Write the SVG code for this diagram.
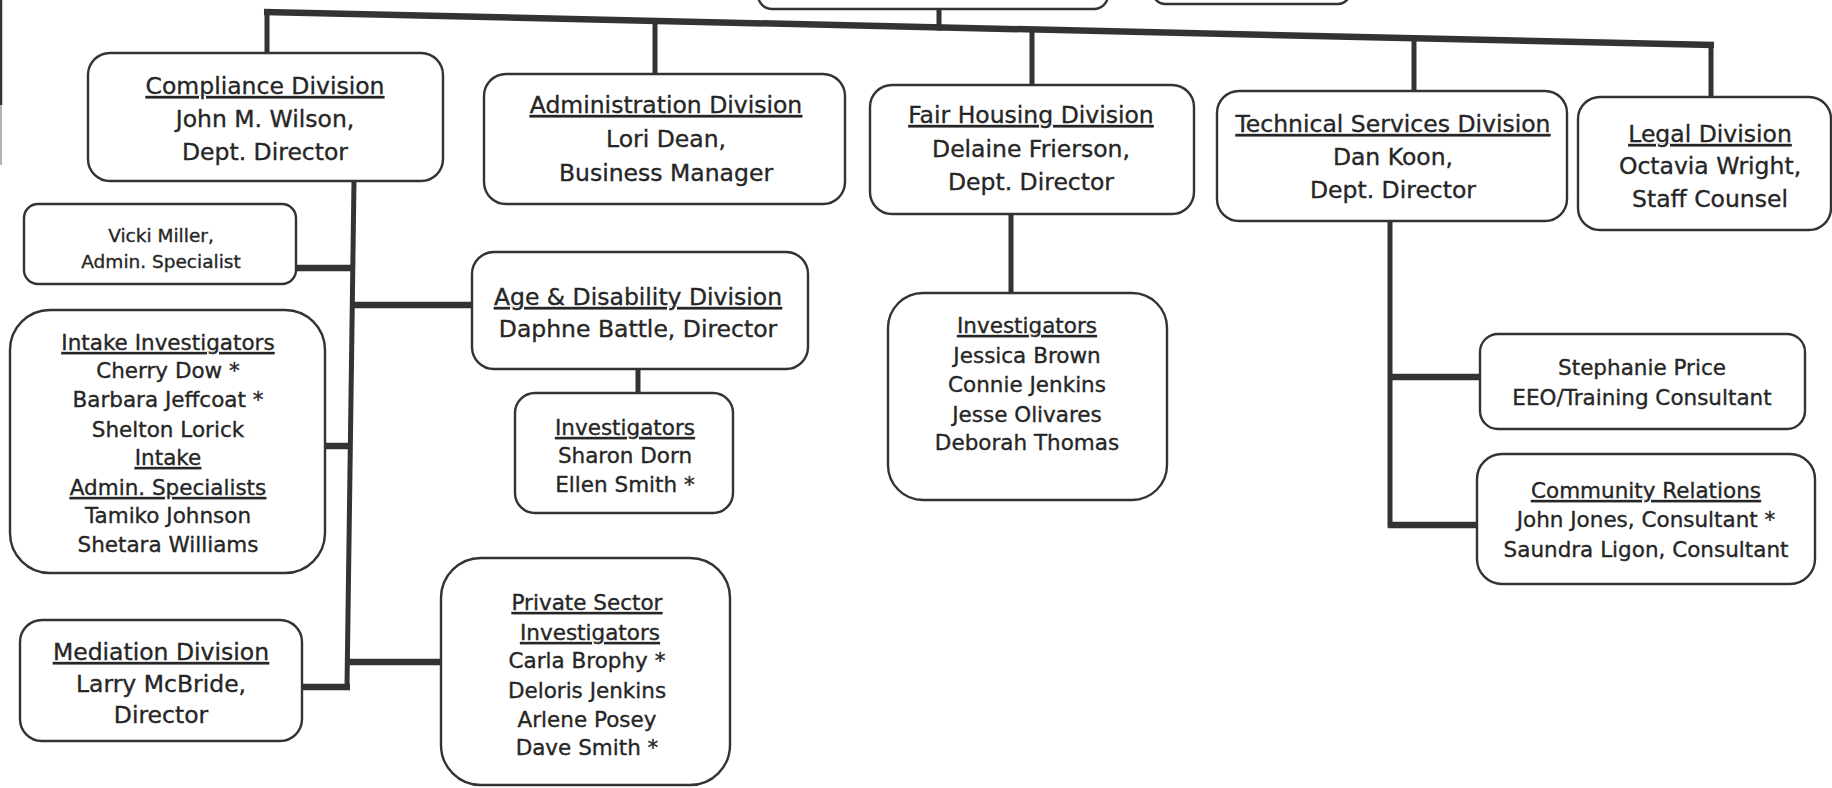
<svg xmlns="http://www.w3.org/2000/svg" width="1832" height="788" viewBox="0 0 1832 788">
<style>
.box{fill:#fff;stroke:#333;stroke-width:2.4}
.t{font-family:"DejaVu Sans",Verdana,sans-serif;fill:#262626;stroke:#262626;stroke-width:0.35;text-anchor:middle}
.u{text-decoration:underline}
.L{font-size:23.5px}
.M{font-size:21.5px}
.S{font-size:18.5px}
.c{stroke:#333;stroke-width:5;fill:none;stroke-linecap:square}
.b{stroke:#333;stroke-width:6.5;fill:none}
</style>
<rect width="1832" height="788" fill="#fff"/>
<g id="connectors">
<line x1="1" y1="0" x2="1" y2="105" stroke="#333" stroke-width="2.5"/>
<line x1="1" y1="105" x2="1" y2="165" stroke="#999" stroke-width="1.5"/>
<line class="b" x1="264" y1="12" x2="1714" y2="45"/>
<line class="c" x1="267" y1="12" x2="267" y2="53"/>
<line class="c" x1="655" y1="21" x2="655" y2="74"/>
<line class="c" x1="939" y1="9" x2="939" y2="28"/>
<line class="c" x1="1032" y1="30" x2="1032" y2="85"/>
<line class="c" x1="1414" y1="38" x2="1414" y2="91"/>
<line class="c" x1="1711" y1="45" x2="1711" y2="97"/>
<path class="c" d="M354 181 L347 687"/>
<line class="b" x1="296" y1="268" x2="353" y2="268"/>
<line class="b" x1="352" y1="305" x2="472" y2="305"/>
<line class="b" x1="325" y1="446" x2="350" y2="446"/>
<line class="b" x1="347" y1="662" x2="441" y2="662"/>
<line class="b" x1="302" y1="687" x2="350" y2="687"/>
<line class="c" x1="638" y1="369" x2="638" y2="393"/>
<line class="c" x1="1011" y1="214" x2="1011" y2="293"/>
<path class="c" d="M1390 222 L1390 525"/>
<line class="b" x1="1388" y1="377" x2="1480" y2="377"/>
<line class="b" x1="1388" y1="525" x2="1477" y2="525"/>
</g>
<g id="top-box-1"><rect class="box" x="758" y="-40" width="350" height="49" rx="14"/></g>
<g id="top-box-2"><rect class="box" x="1153" y="-40" width="197" height="44" rx="12"/></g>
<g id="compliance">
<rect class="box" x="88" y="53" width="355" height="128" rx="22"/>
<text class="t L u" x="265" y="94">Compliance Division</text>
<text class="t L" x="265" y="127">John M. Wilson,</text>
<text class="t L" x="265" y="160">Dept. Director</text>
</g>
<g id="administration">
<rect class="box" x="484" y="74" width="361" height="130" rx="22"/>
<text class="t L u" x="666" y="113">Administration Division</text>
<text class="t L" x="666" y="147">Lori Dean,</text>
<text class="t L" x="666" y="181">Business Manager</text>
</g>
<g id="fair-housing">
<rect class="box" x="870" y="85" width="324" height="129" rx="22"/>
<text class="t L u" x="1031" y="123">Fair Housing Division</text>
<text class="t L" x="1031" y="157">Delaine Frierson,</text>
<text class="t L" x="1031" y="190">Dept. Director</text>
</g>
<g id="technical-services">
<rect class="box" x="1217" y="91" width="350" height="130" rx="22"/>
<text class="t L u" x="1393" y="132">Technical Services Division</text>
<text class="t L" x="1393" y="165">Dan Koon,</text>
<text class="t L" x="1393" y="198">Dept. Director</text>
</g>
<g id="legal">
<rect class="box" x="1578" y="97" width="253" height="133" rx="22"/>
<text class="t L u" x="1710" y="142">Legal Division</text>
<text class="t L" x="1710" y="174">Octavia Wright,</text>
<text class="t L" x="1710" y="207">Staff Counsel</text>
</g>
<g id="vicki-miller">
<rect class="box" x="24" y="204" width="272" height="80" rx="14"/>
<text class="t S" x="161" y="242">Vicki Miller,</text>
<text class="t S" x="161" y="268">Admin. Specialist</text>
</g>
<g id="intake">
<rect class="box" x="10" y="310" width="315" height="263" rx="40"/>
<text class="t M u" x="168" y="350">Intake Investigators</text>
<text class="t M" x="168" y="378">Cherry Dow *</text>
<text class="t M" x="168" y="407">Barbara Jeffcoat *</text>
<text class="t M" x="168" y="437">Shelton Lorick</text>
<text class="t M u" x="168" y="465">Intake</text>
<text class="t M u" x="168" y="495">Admin. Specialists</text>
<text class="t M" x="168" y="523">Tamiko Johnson</text>
<text class="t M" x="168" y="552">Shetara Williams</text>
</g>
<g id="age-disability">
<rect class="box" x="472" y="252" width="336" height="117" rx="22"/>
<text class="t L u" x="638" y="305">Age &amp; Disability Division</text>
<text class="t L" x="638" y="337">Daphne Battle, Director</text>
</g>
<g id="age-investigators">
<rect class="box" x="515" y="393" width="218" height="120" rx="20"/>
<text class="t M u" x="625" y="435">Investigators</text>
<text class="t M" x="625" y="463">Sharon Dorn</text>
<text class="t M" x="625" y="492">Ellen Smith *</text>
</g>
<g id="mediation">
<rect class="box" x="20" y="620" width="282" height="121" rx="22"/>
<text class="t L u" x="161" y="660">Mediation Division</text>
<text class="t L" x="161" y="692">Larry McBride,</text>
<text class="t L" x="161" y="723">Director</text>
</g>
<g id="private-sector">
<rect class="box" x="441" y="558" width="289" height="227" rx="40"/>
<text class="t M u" x="587" y="610">Private Sector</text>
<text class="t M u" x="590" y="640">Investigators</text>
<text class="t M" x="587" y="668">Carla Brophy *</text>
<text class="t M" x="587" y="698">Deloris Jenkins</text>
<text class="t M" x="587" y="727">Arlene Posey</text>
<text class="t M" x="587" y="755">Dave Smith *</text>
</g>
<g id="fair-investigators">
<rect class="box" x="888" y="293" width="279" height="207" rx="35"/>
<text class="t M u" x="1027" y="333">Investigators</text>
<text class="t M" x="1027" y="363">Jessica Brown</text>
<text class="t M" x="1027" y="392">Connie Jenkins</text>
<text class="t M" x="1027" y="422">Jesse Olivares</text>
<text class="t M" x="1027" y="450">Deborah Thomas</text>
</g>
<g id="stephanie-price">
<rect class="box" x="1480" y="334" width="325" height="95" rx="18"/>
<text class="t M" x="1642" y="375">Stephanie Price</text>
<text class="t M" x="1642" y="405">EEO/Training Consultant</text>
</g>
<g id="community-relations">
<rect class="box" x="1477" y="454" width="338" height="130" rx="25"/>
<text class="t M u" x="1646" y="498">Community Relations</text>
<text class="t M" x="1646" y="527">John Jones, Consultant *</text>
<text class="t M" x="1646" y="557">Saundra Ligon, Consultant</text>
</g>
</svg>
